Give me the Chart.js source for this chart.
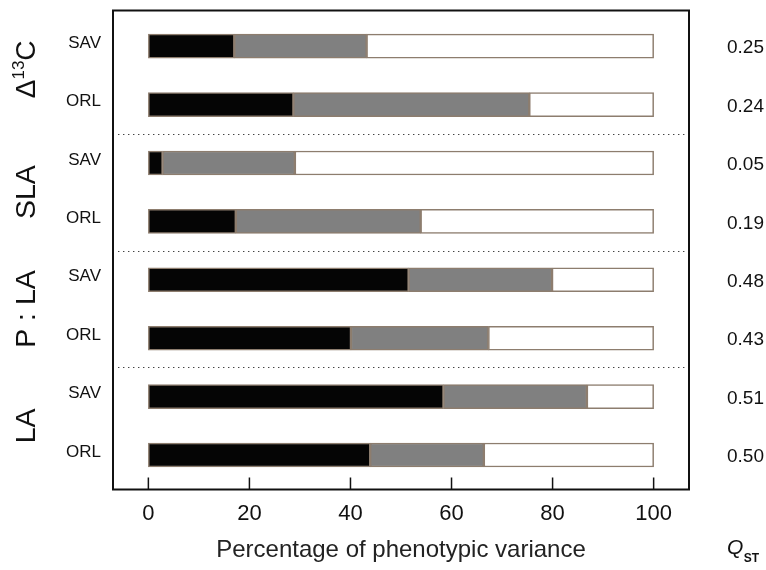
<!DOCTYPE html>
<html>
<head>
<meta charset="utf-8">
<script src="https://cdn.jsdelivr.net/npm/chart.js@4.4.1/dist/chart.umd.min.js"></script>
<style>
  html, body { margin: 0; padding: 0; background: #ffffff; }
  #wrap { width: 766px; height: 570px; }
</style>
</head>
<body>
<div id="wrap"><canvas id="chart" width="766" height="570"></canvas></div>
<script>
// Rows, top to bottom: each trait measured in two populations
const populations = ['SAV', 'ORL', 'SAV', 'ORL', 'SAV', 'ORL', 'SAV', 'ORL'];
const traits = ['Δ13C', 'SLA', 'P : LA', 'LA'];
// Share of phenotypic variance (%) per component
const amongPopulations = [17.0, 28.7, 2.8, 17.3, 51.5, 40.1, 58.4, 43.9];
const amongFamilies    = [26.2, 46.7, 26.2, 36.6, 28.4, 27.2, 28.4, 22.5];
const residual         = [56.8, 24.6, 71.0, 46.1, 20.1, 32.7, 13.2, 33.6];
const qst = ['0.25', '0.24', '0.05', '0.19', '0.48', '0.43', '0.51', '0.50'];
const xTickValues = [0, 20, 40, 60, 80, 100];

const FONT = "'Liberation Sans', Arial, Helvetica, sans-serif";
const rowPos = populations.map((_, i) => i + 1);
const toPoints = arr => arr.map((v, i) => ({ x: v, y: rowPos[i] }));
const Y_MIN = 0.39, Y_MAX = 8.59;

const barStyle = {
  borderColor: '#8d7d6e',
  borderWidth: 1.5,
  borderSkipped: false,
  barThickness: 24
};

const decorations = {
  id: 'decorations',
  afterDraw(chart) {
    const { ctx, chartArea: a, scales: { x, y } } = chart;
    ctx.save();

    // dotted separators between traits
    ctx.strokeStyle = '#444';
    ctx.lineWidth = 1.2;
    ctx.setLineDash([1.4, 3.6]);
    [2.5, 4.5, 6.5].forEach(v => {
      const py = Math.round(y.getPixelForValue(v)) + 0.5;
      ctx.beginPath();
      ctx.moveTo(a.left + 5, py);
      ctx.lineTo(a.right - 4, py);
      ctx.stroke();
    });
    ctx.setLineDash([]);

    // inward tick marks on the bottom axis
    ctx.strokeStyle = '#111';
    ctx.lineWidth = 1.5;
    xTickValues.forEach(v => {
      const px = x.getPixelForValue(v);
      ctx.beginPath();
      ctx.moveTo(px, a.bottom);
      ctx.lineTo(px, a.bottom - 12);
      ctx.stroke();
    });

    // frame
    ctx.lineWidth = 2;
    ctx.strokeStyle = '#111';
    ctx.strokeRect(a.left, a.top, a.right - a.left, a.bottom - a.top);

    // trait names, rotated
    ctx.fillStyle = '#111';
    ctx.textBaseline = 'middle';
    const labelX = 26;
    traits.forEach((t, k) => {
      const cy = (y.getPixelForValue(2 * k + 1) + y.getPixelForValue(2 * k + 2)) / 2 + (k === 0 ? -6 : 0);
      ctx.save();
      ctx.translate(labelX, cy);
      ctx.rotate(-Math.PI / 2);
      if (t === 'Δ13C') {
        const big = `28px ${FONT}`, small = `17px ${FONT}`;
        ctx.font = big;
        const wD = ctx.measureText('Δ').width;
        const wC = ctx.measureText('C').width;
        ctx.font = small;
        const w13 = ctx.measureText('13').width;
        let sx = -(wD + w13 + wC) / 2;
        ctx.textAlign = 'left';
        ctx.font = big;
        ctx.fillText('Δ', sx, 1);
        ctx.font = small;
        ctx.fillText('13', sx + wD, -7);
        ctx.font = big;
        ctx.fillText('C', sx + wD + w13, 1);
      } else {
        ctx.font = `28.5px ${FONT}`;
        ctx.textAlign = 'center';
        ctx.fillText(t, 0, 1);
      }
      ctx.restore();
    });

    // Q_ST values on the right
    ctx.font = `19px ${FONT}`;
    ctx.textAlign = 'left';
    ctx.textBaseline = 'middle';
    qst.forEach((q, i) => {
      ctx.fillText(q, 727, y.getPixelForValue(rowPos[i]) + 2);
    });

    // Q_ST heading
    ctx.font = `italic 21px ${FONT}`;
    ctx.textBaseline = 'alphabetic';
    ctx.fillText('Q', 727, 554);
    const wq = ctx.measureText('Q').width;
    ctx.font = `bold 12px ${FONT}`;
    ctx.fillText('ST', 727 + wq + 0.5, 562);

    ctx.restore();
  }
};

new Chart(document.getElementById('chart'), {
  type: 'bar',
  data: {
    datasets: [
      { label: 'Among populations', data: toPoints(amongPopulations), backgroundColor: '#050505', ...barStyle },
      { label: 'Among families', data: toPoints(amongFamilies), backgroundColor: '#808080', ...barStyle },
      { label: 'Residual', data: toPoints(residual), backgroundColor: '#ffffff', ...barStyle }
    ]
  },
  options: {
    indexAxis: 'y',
    responsive: false,
    animation: false,
    layout: { padding: { top: 10.5, right: 77, left: 0, bottom: 0 } },
    plugins: { legend: { display: false }, tooltip: { enabled: false } },
    scales: {
      x: {
        type: 'linear',
        stacked: true,
        offset: false,
        bounds: 'data',
        min: -7,
        max: 107,
        afterBuildTicks: s => { s.ticks = xTickValues.map(v => ({ value: v })); s.min = -7; s.max = 107; },
        afterFit: s => { s.height = 80.5; s.paddingLeft = 0; s.paddingRight = 0; },
        grid: { display: false, drawTicks: false },
        border: { display: false },
        ticks: { padding: 11, color: '#111', font: { family: FONT, size: 22 } },
        title: {
          display: true,
          text: 'Percentage of phenotypic variance',
          color: '#222',
          font: { family: FONT, size: 24 },
          padding: { top: 0, bottom: 5 }
        }
      },
      y: {
        type: 'linear',
        stacked: true,
        offset: false,
        bounds: 'data',
        reverse: true,
        min: Y_MIN,
        max: Y_MAX,
        afterBuildTicks: s => { s.ticks = rowPos.map(v => ({ value: v })); s.min = Y_MIN; s.max = Y_MAX; },
        afterFit: s => { s.width = 113; s.paddingTop = 0; s.paddingBottom = 0; },
        grid: { display: false, drawTicks: false },
        border: { display: false },
        ticks: {
          padding: 12,
          labelOffset: -3,
          color: '#111',
          font: { family: FONT, size: 17 },
          callback: v => populations[v - 1]
        }
      }
    }
  },
  plugins: [decorations]
});
</script>
</body>
</html>
